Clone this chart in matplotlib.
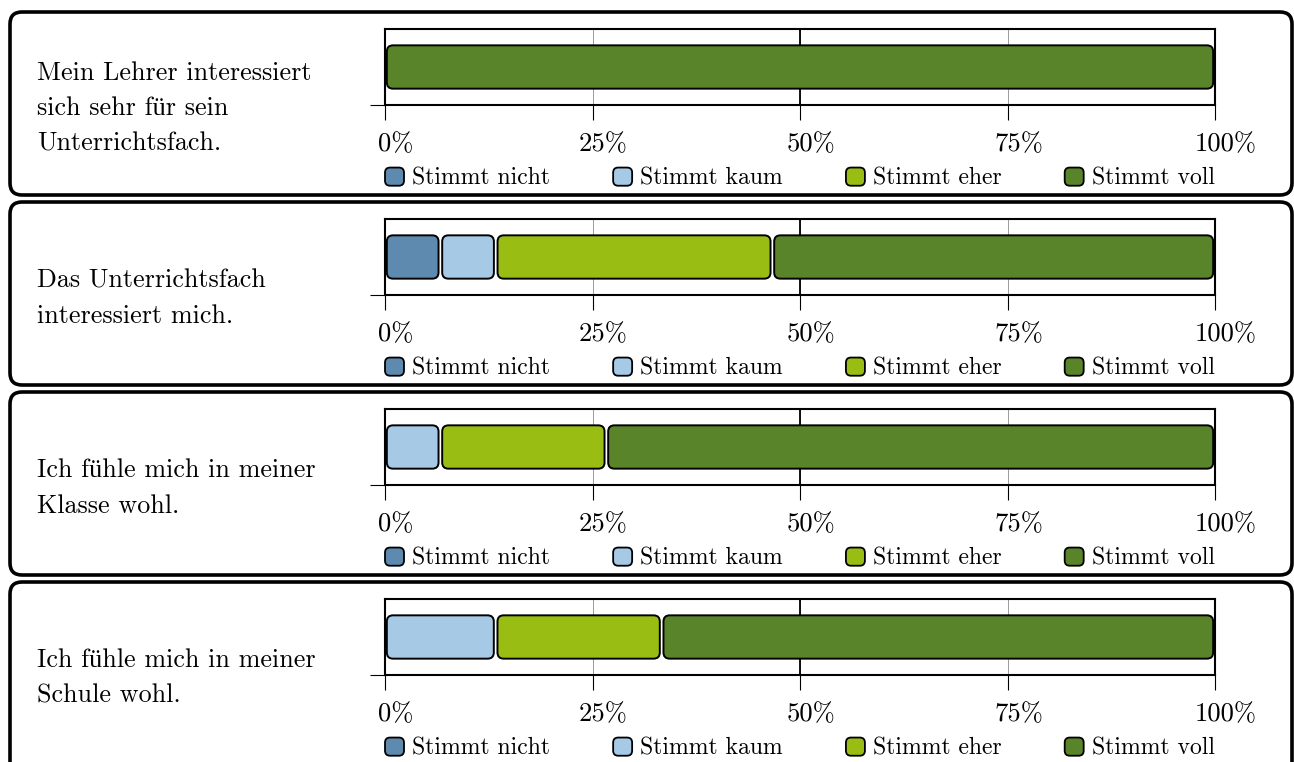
import matplotlib.pyplot as plt
import matplotlib.patches as mpatches
from matplotlib.patches import FancyBboxPatch
from matplotlib.legend_handler import HandlerPatch
from matplotlib.transforms import ScaledTranslation

plt.rcParams['font.family'] = ['cmr10', 'Liberation Serif']
plt.rcParams['axes.formatter.use_mathtext'] = True

# Aussagen und Antworten (Anteile in %)
aussagen = [
    "Mein Lehrer interessiert\nsich sehr für sein\nUnterrichtsfach.",
    "Das Unterrichtsfach\ninteressiert mich.",
    "Ich fühle mich in meiner\nKlasse wohl.",
    "Ich fühle mich in meiner\nSchule wohl.",
]
antworten = ["Stimmt nicht", "Stimmt kaum", "Stimmt eher", "Stimmt voll"]
farben = ["#5e8ab0", "#a6c9e6", "#9abd14", "#5a8429"]

stimmt_nicht = [0.0, 6.67, 0.0, 0.0]
stimmt_kaum = [0.0, 6.67, 6.67, 13.33]
stimmt_eher = [0.0, 33.33, 20.0, 20.0]
stimmt_voll = [100.0, 53.33, 73.33, 66.67]
werte = [stimmt_nicht, stimmt_kaum, stimmt_eher, stimmt_voll]

ticks = [0, 25, 50, 75, 100]
tick_labels = ["0%", "25%", "50%", "75%", "100%"]

W, H = 1294, 762
AX_W, AX_H = 830, 76
fig = plt.figure(figsize=(W / 100, H / 100), dpi=100)


def legend_box(legend, orig_handle, xdescent, ydescent, width, height, fontsize):
    return FancyBboxPatch((-xdescent, -ydescent), width, height,
                          boxstyle=f"round,pad=0,rounding_size={height * 0.28}")


handles = [mpatches.Patch(facecolor=farben[j], edgecolor='black', lw=1.3,
                          label=antworten[j]) for j in range(4)]

for i in range(len(aussagen)):
    top = 12 + i * 190
    hoehe = 183 if i < len(aussagen) - 1 else 200  # letzter Rahmen läuft unten raus

    # abgerundeter Rahmen um jede Aussage
    box = FancyBboxPatch((10 / W, 1 - (top + hoehe) / H), 1282 / W, hoehe / H,
                         boxstyle=f"round,pad=0,rounding_size={12 / W}",
                         mutation_aspect=W / H, transform=fig.transFigure,
                         fc='none', ec='black', lw=2.6)
    fig.add_artist(box)

    fig.text(37 / W, 1 - (top + 96) / H, aussagen[i], ha='left', va='center',
             fontsize=18.8, linespacing=1.62)

    ax = fig.add_axes([385 / W, 1 - (top + 93) / H, AX_W / W, AX_H / H])
    ax.set_xlim(0, 100)
    ax.set_ylim(-0.5, 0.5)

    aspect = (1.0 / AX_H) / (100.0 / AX_W)
    links = 0.0
    for j in range(4):
        bars = ax.barh([0], [werte[j][i]], left=[links], height=0.57, color=farben[j])
        links += werte[j][i]
        for rect in bars:
            x0, y0 = rect.get_x(), rect.get_y()
            w, h = rect.get_width(), rect.get_height()
            rect.remove()
            if w <= 0:
                continue
            gap = 0.22
            ax.add_patch(FancyBboxPatch((x0 + gap, y0), w - 2 * gap, h,
                                        boxstyle="round,pad=0,rounding_size=0.75",
                                        mutation_aspect=aspect, fc=farben[j],
                                        ec='black', lw=1.4, zorder=3))

    ax.grid(axis='x', color='#8c8c8c', lw=0.6)
    ax.set_axisbelow(True)
    ax.axvline(50, color='black', lw=1.3, zorder=1)

    ax.set_xticks(ticks, tick_labels, fontsize=19.2)
    ax.tick_params(axis='x', length=11, width=0.8, pad=9)
    for lab in ax.get_xticklabels():
        lab.set_transform(lab.get_transform() + ScaledTranslation(0.11, 0, fig.dpi_scale_trans))
    ax.set_yticks([-0.5], [""])
    ax.tick_params(axis='y', length=11, width=0.8)
    for sp in ax.spines.values():
        sp.set_linewidth(1.5)

    ax.legend(handles=handles, handler_map={mpatches.Patch: HandlerPatch(patch_func=legend_box)},
              loc='center', bbox_to_anchor=(0, -0.97, 1, 0), mode='expand', ncol=4,
              frameon=False, borderaxespad=0, borderpad=0, fontsize=17.1,
              handlelength=0.8, handleheight=0.8, handletextpad=0.35)

fig.savefig("out.png", dpi=100)
